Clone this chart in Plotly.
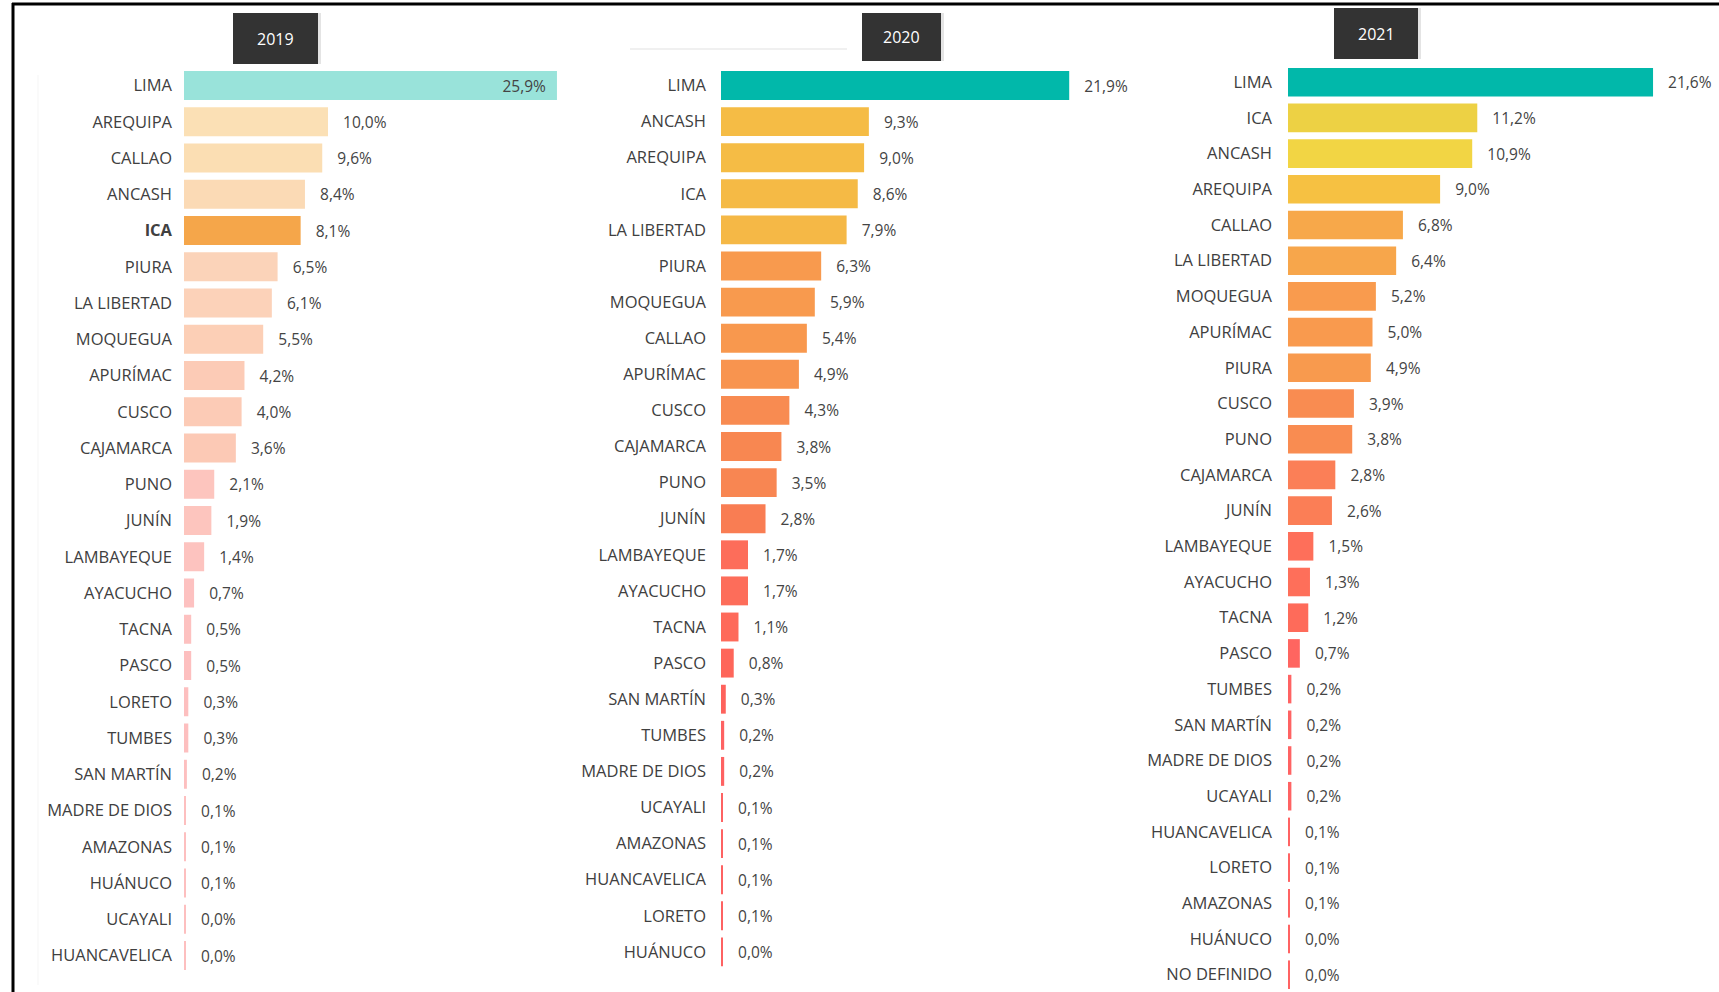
import numpy as np
import plotly.graph_objects as go

W, H = 1719, 992

# ---------------- data ----------------
years = ["2019", "2020", "2021"]

regions_2019 = ["LIMA", "AREQUIPA", "CALLAO", "ANCASH", "ICA", "PIURA", "LA LIBERTAD",
                "MOQUEGUA", "APURÍMAC", "CUSCO", "CAJAMARCA", "PUNO", "JUNÍN",
                "LAMBAYEQUE", "AYACUCHO", "TACNA", "PASCO", "LORETO", "TUMBES",
                "SAN MARTÍN", "MADRE DE DIOS", "AMAZONAS", "HUÁNUCO", "UCAYALI",
                "HUANCAVELICA"]
values_2019 = [25.9, 10.0, 9.6, 8.4, 8.1, 6.5, 6.1, 5.5, 4.2, 4.0, 3.6, 2.1, 1.9,
               1.4, 0.7, 0.5, 0.5, 0.3, 0.3, 0.2, 0.1, 0.1, 0.1, 0.0, 0.0]

regions_2020 = ["LIMA", "ANCASH", "AREQUIPA", "ICA", "LA LIBERTAD", "PIURA", "MOQUEGUA",
                "CALLAO", "APURÍMAC", "CUSCO", "CAJAMARCA", "PUNO", "JUNÍN",
                "LAMBAYEQUE", "AYACUCHO", "TACNA", "PASCO", "SAN MARTÍN", "TUMBES",
                "MADRE DE DIOS", "UCAYALI", "AMAZONAS", "HUANCAVELICA", "LORETO",
                "HUÁNUCO"]
values_2020 = [21.9, 9.3, 9.0, 8.6, 7.9, 6.3, 5.9, 5.4, 4.9, 4.3, 3.8, 3.5, 2.8,
               1.7, 1.7, 1.1, 0.8, 0.3, 0.2, 0.2, 0.1, 0.1, 0.1, 0.1, 0.0]

regions_2021 = ["LIMA", "ICA", "ANCASH", "AREQUIPA", "CALLAO", "LA LIBERTAD", "MOQUEGUA",
                "APURÍMAC", "PIURA", "CUSCO", "PUNO", "CAJAMARCA", "JUNÍN",
                "LAMBAYEQUE", "AYACUCHO", "TACNA", "PASCO", "TUMBES", "SAN MARTÍN",
                "MADRE DE DIOS", "UCAYALI", "HUANCAVELICA", "LORETO", "AMAZONAS",
                "HUÁNUCO", "NO DEFINIDO"]
values_2021 = [21.6, 11.2, 10.9, 9.0, 6.8, 6.4, 5.2, 5.0, 4.9, 3.9, 3.8, 2.8, 2.6,
               1.5, 1.3, 1.2, 0.7, 0.2, 0.2, 0.2, 0.2, 0.1, 0.1, 0.1, 0.0, 0.0]

highlight_2019 = "ICA"

# ---------------- styles ----------------
colors_2019 = ["#99E3DA", "#FBE0B5", "#FBDEB3", "#FBDAB5", "#F5A64A", "#FBD3B9",
               "#FCD2B9", "#FCCFB6", "#FCCBB6", "#FCCBB6", "#FCC9B5", "#FDC5BE",
               "#FDC5BE", "#FDC3BF", "#FDC1C0", "#FDC1C0", "#FDBFBF", "#FDBFBF",
               "#FDBFBF", "#FDBFBF", "#FDBFBF", "#FDBFBF", "#FDBFBF", "#FDBFBF",
               "#FDBFBF"]
colors_2020 = ["#01B8AA", "#F5BC45", "#F5BC45", "#F5BA45", "#F5B846", "#F89A4E",
               "#F89A4E", "#F8984E", "#F8944F", "#F88B51", "#F88751", "#F88652",
               "#F97D53", "#FD6D5A", "#FD6D5A", "#FE6A5A", "#FE665A", "#FE625C",
               "#FE6262", "#FE6262", "#FE6262", "#FE6262", "#FE6262", "#FE6262",
               "#FE6262"]
colors_2021 = ["#01B8AA", "#EDD144", "#F2D544", "#F6C142", "#F7A84A", "#F7A64B",
               "#F99B4E", "#F99A4E", "#F89A4E", "#F98C51", "#F98C51", "#FB7F57",
               "#FB7E56", "#FE6F5A", "#FE6F5A", "#FE6B5A", "#FF6560", "#FF6363",
               "#FF6363", "#FF6363", "#FF6363", "#FF6363", "#FF6363", "#FF6363",
               "#FF6363", "#FF6363"]

FONT = "Open Sans, Noto Sans, sans-serif"
LABEL_COLOR = "#404040"
VALUE_COLOR = "#444444"
LABEL_SIZE = 16.5
VALUE_SIZE = 15.5
MIN_VISIBLE = 0.12   # Power BI keeps a hairline for ~0 bars
NBSP = "\u00a0"

panels = [
    dict(year=years[0], cats=regions_2019, vals=values_2019, colors=colors_2019,
         x0=184, ppu=14.4, xmax=28, row0=85.5, pitch=36.25, inside_first=True,
         bold=highlight_2019, box=(233, 13, 318, 64), standoff=11),
    dict(year=years[1], cats=regions_2020, vals=values_2020, colors=colors_2020,
         x0=721, ppu=15.9, xmax=24, row0=85.5, pitch=36.1, inside_first=False,
         bold=None, box=(862, 13, 941, 61), standoff=14),
    dict(year=years[2], cats=regions_2021, vals=values_2021, colors=colors_2021,
         x0=1288, ppu=16.9, xmax=25, row0=82.2, pitch=35.7, inside_first=False,
         bold=None, box=(1334, 8, 1418, 59), standoff=15),
]


def fmt(v):
    return f"{v:.1f}".replace(".", ",") + "%"


def px(x):
    return x / W


def py(y):
    return 1 - y / H


fig = go.Figure()
shapes = []
annotations = []

for i, p in enumerate(panels):
    sfx = "" if i == 0 else str(i + 1)
    n = len(p["cats"])
    vals = np.array(p["vals"], dtype=float)
    draw_vals = np.maximum(vals, MIN_VISIBLE)
    texts, positions = [], []
    for j, v in enumerate(vals):
        if j == 0 and p["inside_first"]:
            texts.append(fmt(v) + NBSP * 2)
            positions.append("inside")
        else:
            texts.append(NBSP * 3 + fmt(v))
            positions.append("outside")

    fig.add_trace(go.Bar(
        x=draw_vals, y=p["cats"], orientation="h",
        marker=dict(color=p["colors"], line=dict(width=0)),
        text=texts, textposition=positions, insidetextanchor="end",
        textfont=dict(family=FONT, size=VALUE_SIZE, color=VALUE_COLOR),
        insidetextfont=dict(family=FONT, size=VALUE_SIZE, color=VALUE_COLOR),
        outsidetextfont=dict(family=FONT, size=VALUE_SIZE, color=VALUE_COLOR),
        constraintext="none", cliponaxis=False, width=0.8,
        xaxis="x" + sfx, yaxis="y" + sfx, showlegend=False, hoverinfo="skip",
    ))

    x1 = p["x0"] + p["xmax"] * p["ppu"]
    top = p["row0"] - p["pitch"] / 2
    bottom = min(top + n * p["pitch"], H)
    y_bottom_val = -0.5 + (bottom - top) / p["pitch"]

    ticktext = [f"<b>{c}</b>" if c == p["bold"] else c for c in p["cats"]]

    fig.update_layout(**{
        "xaxis" + sfx: dict(domain=[px(p["x0"]), min(px(x1), 1.0)], range=[0, p["xmax"]],
                            showgrid=False, zeroline=False, showticklabels=False,
                            showline=False, anchor="y" + sfx, fixedrange=True),
        "yaxis" + sfx: dict(domain=[py(bottom), py(top)], range=[y_bottom_val, -0.5],
                            type="category", categoryorder="array",
                            categoryarray=p["cats"], tickvals=p["cats"],
                            ticktext=ticktext, showgrid=False, zeroline=False,
                            showline=False, ticks="", ticklabelstandoff=p["standoff"],
                            tickfont=dict(family=FONT, size=LABEL_SIZE, color=LABEL_COLOR),
                            anchor="x" + sfx, fixedrange=True),
    })

    # year header box
    bx0, by0, bx1, by1 = p["box"]
    shapes.append(dict(type="rect", xref="paper", yref="paper",
                       x0=px(bx1), x1=px(bx1 + 3), y0=py(by1), y1=py(by0),
                       fillcolor="#E4E4E4", line=dict(width=0), layer="below"))
    shapes.append(dict(type="rect", xref="paper", yref="paper",
                       x0=px(bx0), x1=px(bx1), y0=py(by1), y1=py(by0),
                       fillcolor="#333333", line=dict(width=0)))
    annotations.append(dict(xref="paper", yref="paper", x=px((bx0 + bx1) / 2),
                            y=py((by0 + by1) / 2), text=p["year"], showarrow=False,
                            xanchor="center", yanchor="middle",
                            font=dict(family=FONT, size=16, color="#FFFFFF")))

# faint tab lines near 2020 header and container edge in 2019 panel
shapes.append(dict(type="line", xref="paper", yref="paper", x0=px(630), x1=px(847),
                   y0=py(49), y1=py(49), line=dict(color="#EBEBEB", width=1.5)))
shapes.append(dict(type="line", xref="paper", yref="paper", x0=px(38), x1=px(38),
                   y0=py(75), y1=py(985), line=dict(color="#F5F5F5", width=1)))
# black frame (top and left)
shapes.append(dict(type="line", xref="paper", yref="paper", x0=px(13), x1=px(13),
                   y0=0, y1=py(3), line=dict(color="#000000", width=3)))
shapes.append(dict(type="line", xref="paper", yref="paper", x0=px(12), x1=1,
                   y0=py(4), y1=py(4), line=dict(color="#000000", width=3)))

fig.update_layout(
    width=W, height=H, margin=dict(l=0, r=0, t=0, b=0),
    paper_bgcolor="#FFFFFF", plot_bgcolor="rgba(0,0,0,0)",
    shapes=shapes, annotations=annotations, bargap=0.2,
    font=dict(family=FONT),
)

fig.write_html("out.html", config={"displayModeBar": False},
               post_script="document.body.style.margin='0';document.body.style.overflow='hidden';")
